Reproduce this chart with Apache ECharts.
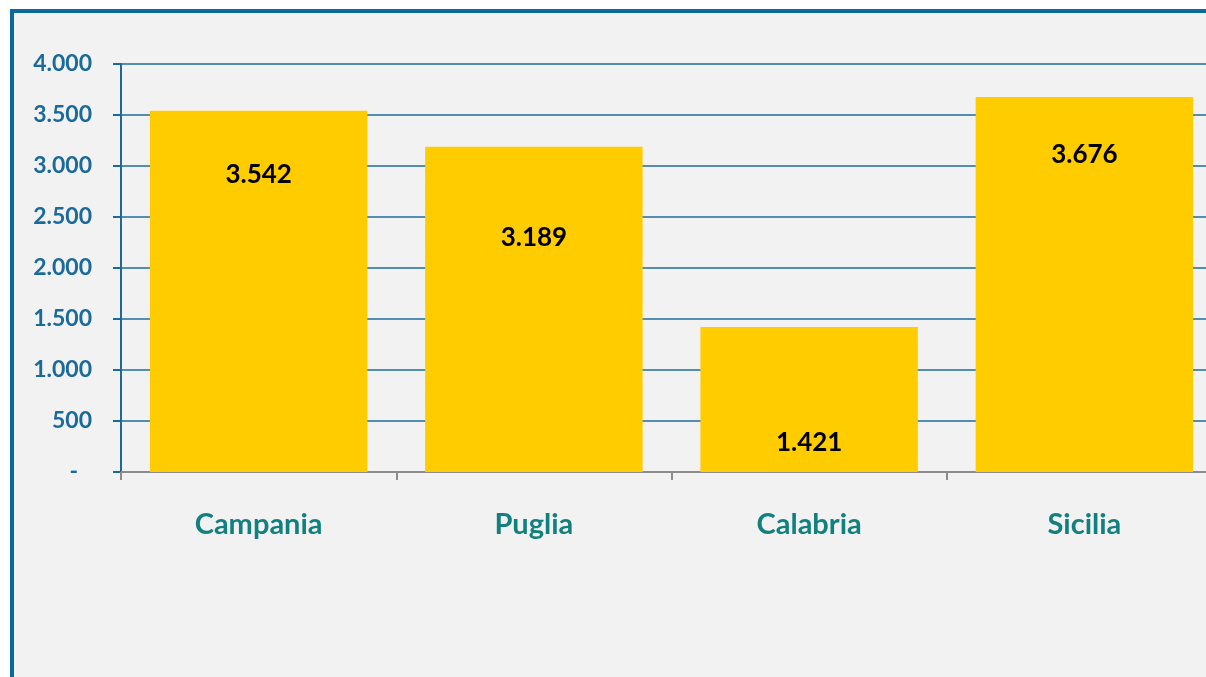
<!DOCTYPE html>
<html><head><meta charset="utf-8">
<script src="https://cdn.jsdelivr.net/npm/echarts@6/dist/echarts.min.js"></script>
<style>html,body{margin:0;padding:0;background:#fff;overflow:hidden;width:1206px;height:677px;}#c{width:1260px;height:677px;}</style>
</head><body><div id="c"></div>
<script>
const categories = ['Campania', 'Puglia', 'Calabria', 'Sicilia'];
const values = [3542, 3189, 1421, 3676];
const yTicks = [0, 500, 1000, 1500, 2000, 2500, 3000, 3500, 4000];
// label placement inside bars (style, not data)
const labelDistances = [51, 78, 103, 45];

const FONT = 'Lato';
function fmt(v) {
  if (v === 0) return '{z|-}';
  return String(v).replace(/\B(?=(\d{3})+(?!\d))/g, '.');
}
const chart = echarts.init(document.getElementById('c'));
chart.setOption({
  animation: false,
  backgroundColor: '#ffffff',
  graphic: [{
    type: 'rect', z: -10,
    shape: { x: 12, y: 11, width: 1400, height: 900 },
    style: { fill: '#f2f2f2', stroke: '#0b6a9c', lineWidth: 4 }
  }],
  grid: { left: 121, top: 64, width: 1101, height: 408 },
  xAxis: {
    type: 'category', data: categories,
    axisLine: { lineStyle: { color: '#8c8c8c', width: 2 } },
    axisTick: { show: true, length: 8, lineStyle: { color: '#8c8c8c', width: 2 } },
    axisLabel: { color: '#138080', fontFamily: FONT, fontWeight: 'bold', fontSize: 29, margin: 38 }
  },
  yAxis: {
    type: 'value', min: yTicks[0], max: yTicks[yTicks.length - 1], interval: yTicks[1] - yTicks[0],
    axisLine: { show: true, lineStyle: { color: '#1a6a9a', width: 2 } },
    axisTick: { show: true, length: 8, lineStyle: { color: '#1a6a9a', width: 2 } },
    splitLine: { lineStyle: { color: '#1d6c9c', width: 1.5 } },
    axisLabel: {
      color: '#1a6a9a', fontFamily: FONT, fontWeight: 'bold', fontSize: 23, margin: 29,
      formatter: fmt,
      rich: { z: { color: '#1a6a9a', fontFamily: FONT, fontWeight: 'bold', fontSize: 23, padding: [0, 14, 0, 0] } }
    }
  },
  series: [{
    type: 'bar',
    barCategoryGap: '21%',
    itemStyle: { color: '#ffcc00' },
    data: values.map((v, i) => ({
      value: v,
      label: {
        show: true, position: 'insideTop', distance: labelDistances[i],
        color: '#000', fontFamily: FONT, fontWeight: 'bold', fontSize: 26,
        formatter: p => fmt(p.value)
      }
    }))
  }]
});
</script></body></html>
